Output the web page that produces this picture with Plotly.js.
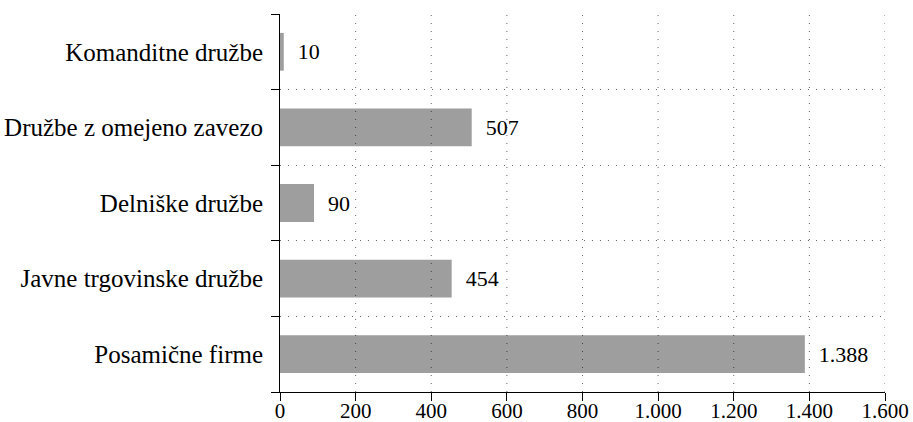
<!DOCTYPE html>
<html>
<head>
<meta charset="utf-8">
<script src="https://cdn.plot.ly/plotly-3.0.1.min.js"></script>
<style>html,body{margin:0;padding:0;background:#fff;}#chart{width:913px;height:422px;}</style>
</head>
<body>
<div id="chart"></div>
<script>
// Data (bottom to top)
const categories = ["Posamične firme", "Javne trgovinske družbe", "Delniške družbe", "Družbe z omejeno zavezo", "Komanditne družbe"];
const values = [1388, 454, 90, 507, 10];
const xTickVals = [0, 200, 400, 600, 800, 1000, 1200, 1400, 1600];

const FONT = "'Liberation Serif', 'Times New Roman', serif";
const gridColor = "rgba(0,0,0,0.6)";

const trace = {
  type: "bar",
  orientation: "h",
  y: categories,
  x: values,
  width: 0.5,
  marker: {color: "#9e9e9e", line: {width: 0}},
  texttemplate: "\u00a0\u00a0%{x:,}",
  textposition: "outside",
  cliponaxis: false,
  textfont: {family: FONT, size: 22, color: "#000"},
  hoverinfo: "skip"
};

const shapes = xTickVals.filter(v => v > 0).map(v => ({
  type: "line", xref: "x", yref: "paper", x0: v, x1: v, y0: 0, y1: 1,
  layer: "above",
  line: {color: gridColor, width: 1, dash: "1px,7px"}
}));

const layout = {
  width: 913, height: 422,
  margin: {l: 280, r: 28, t: 14, b: 30},
  paper_bgcolor: "#fff", plot_bgcolor: "#fff",
  separators: ",.",
  showlegend: false,
  font: {family: FONT, size: 22, color: "#000"},
  xaxis: {
    range: [0, 1600],
    tickvals: xTickVals,
    tickformat: ",",
    showgrid: false,
    zeroline: false,
    showline: true, linecolor: "#000", linewidth: 1,
    ticks: "outside", ticklen: 8, tickcolor: "#000", tickwidth: 1,
    ticklabelstandoff: -8,
    tickfont: {family: FONT, size: 21, color: "#000"}
  },
  yaxis: {
    type: "category",
    categoryorder: "array", categoryarray: categories,
    tickson: "boundaries",
    showgrid: true, gridcolor: gridColor, gridwidth: 1, griddash: "1px,7px",
    zeroline: false,
    showline: true, linecolor: "#000", linewidth: 1,
    ticks: "outside", ticklen: 8, tickcolor: "#000", tickwidth: 1,
    ticklabelstandoff: 11,
    tickfont: {family: FONT, size: 25, color: "#000"}
  },
  shapes: shapes
};

Plotly.newPlot("chart", [trace], layout, {displayModeBar: false, staticPlot: true});
</script>
</body>
</html>
